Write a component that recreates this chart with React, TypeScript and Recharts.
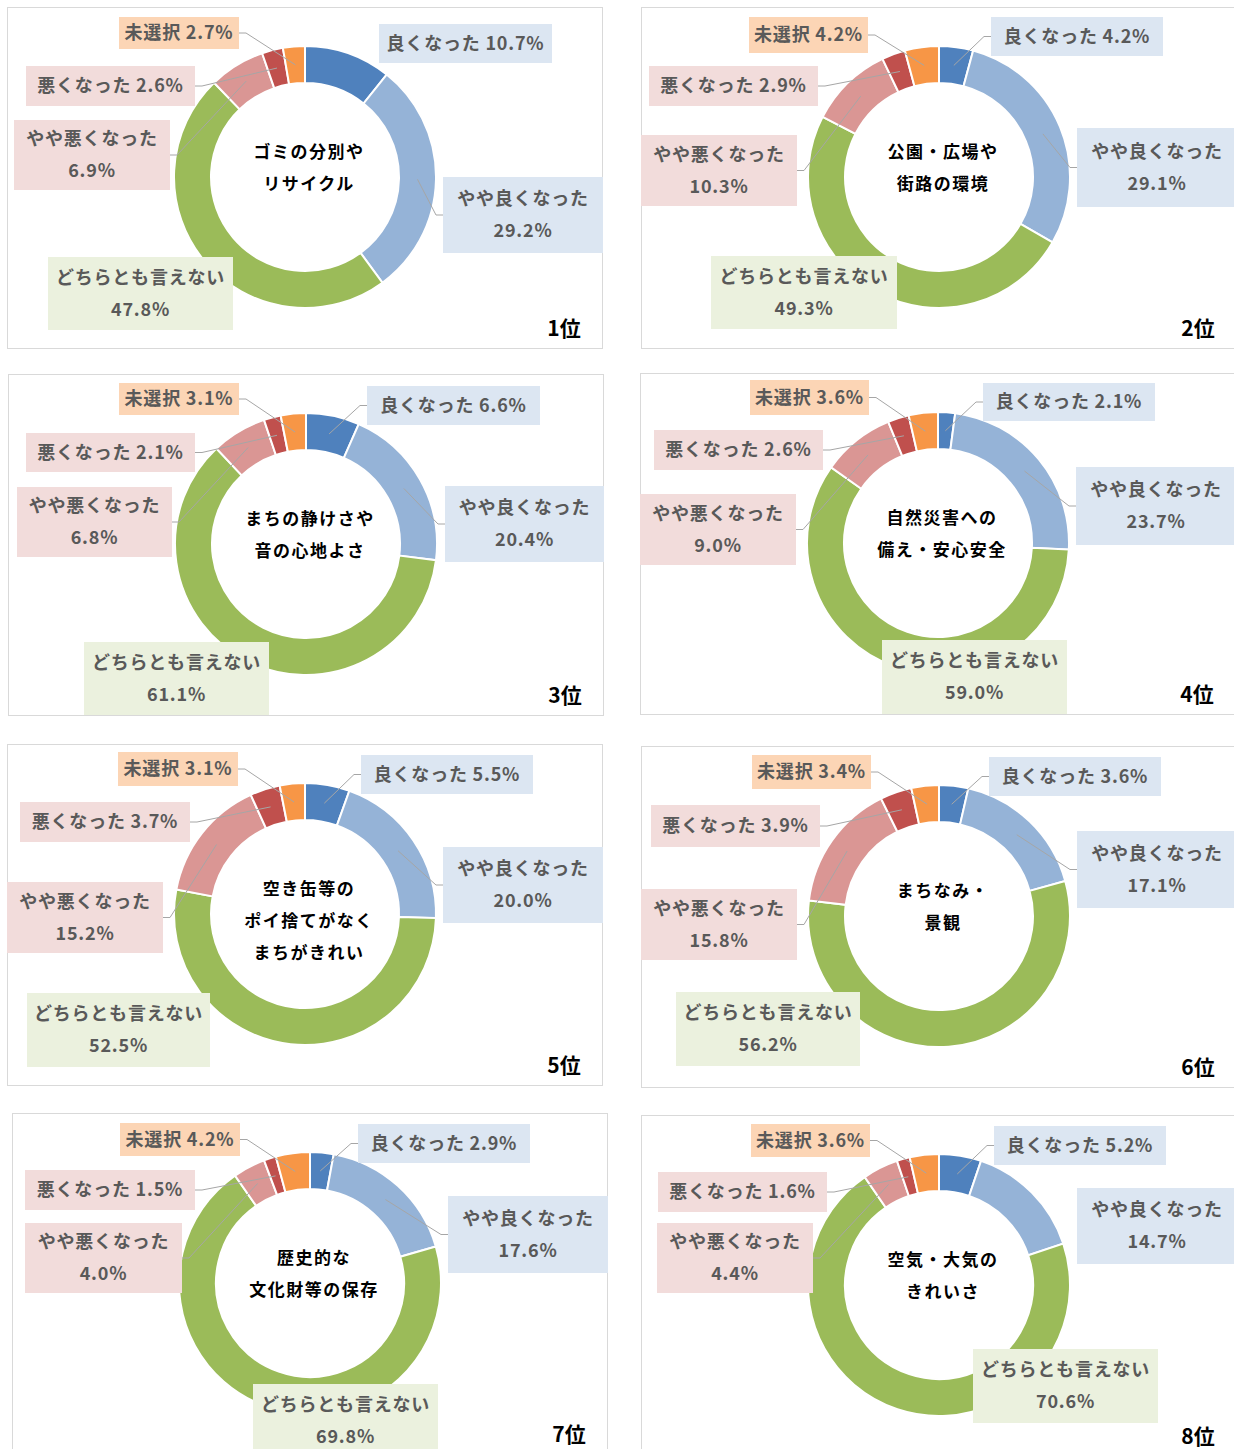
import { PieChart, Pie, Cell } from 'recharts';

// 回答区分（12時の位置から時計回り）
const categories = ['良くなった', 'やや良くなった', 'どちらとも言えない', 'やや悪くなった', '悪くなった', '未選択'];
const twoLine = [false, true, true, true, false, false];

const topics = [
  ['ゴミの分別や', 'リサイクル'],
  ['公園・広場や', '街路の環境'],
  ['まちの静けさや', '音の心地よさ'],
  ['自然災害への', '備え・安心安全'],
  ['空き缶等の', 'ポイ捨てがなく', 'まちがきれい'],
  ['まちなみ・', '景観'],
  ['歴史的な', '文化財等の保存'],
  ['空気・大気の', 'きれいさ'],
];
const ranks = ['1位', '2位', '3位', '4位', '5位', '6位', '7位', '8位'];

// 割合（%）
const gomi = [10.7, 29.2, 47.8, 6.9, 2.6, 2.7];
const koen = [4.2, 29.1, 49.3, 10.3, 2.9, 4.2];
const shizukesa = [6.6, 20.4, 61.1, 6.8, 2.1, 3.1];
const saigai = [2.1, 23.7, 59.0, 9.0, 2.6, 3.6];
const akikan = [5.5, 20.0, 52.5, 15.2, 3.7, 3.1];
const machinami = [3.6, 17.1, 56.2, 15.8, 3.9, 3.4];
const rekishi = [2.9, 17.6, 69.8, 4.0, 1.5, 4.2];
const kuki = [5.2, 14.7, 70.6, 4.4, 1.6, 3.6];

const series = [gomi, koen, shizukesa, saigai, akikan, machinami, rekishi, kuki];

const SLICE_COLORS = ['#4F81BD', '#95B3D7', '#9BBB59', '#DA9694', '#C0504D', '#F79646'];
const BOX_COLORS = ['#DCE6F2', '#DCE6F2', '#EBF1DE', '#F2DCDB', '#F2DCDB', '#FCD5B5'];

const W = 596;
const H = 342;
const CX = 298;
const CY = 170;

// パネル位置
const panels = [
  { left: 7, top: 7 }, { left: 641, top: 7 },
  { left: 8, top: 374 }, { left: 640, top: 373 },
  { left: 7, top: 744 }, { left: 641, top: 746 },
  { left: 12, top: 1113 }, { left: 641, top: 1115 },
];

// ラベル枠 [x, y, w, h]（パネル内座標）
const boxes = [
  [[372, 17, 173, 39], [436, 170, 160, 76], [41, 250, 185, 73], [7, 113, 156, 70], [19, 59, 169, 40], [112, 10, 120, 32]],
  [[350, 10, 172, 39], [436, 121, 160, 79], [70, 249, 186, 73], [0, 128, 156, 71], [8, 59, 169, 40], [108, 10, 119, 36]],
  [[359, 12, 173, 39], [437, 112, 159, 76], [76, 268, 185, 73], [9, 113, 155, 70], [18, 59, 169, 39], [111, 9, 120, 32]],
  [[343, 10, 172, 38], [436, 94, 160, 78], [242, 267, 185, 74], [0, 121, 156, 71], [14, 57, 169, 40], [110, 7, 119, 35]],
  [[354, 11, 172, 39], [436, 103, 160, 76], [20, 249, 183, 74], [0, 138, 156, 71], [13, 58, 170, 40], [111, 8, 120, 34]],
  [[348, 11, 172, 39], [436, 85, 160, 77], [35, 246, 184, 74], [0, 143, 156, 71], [10, 59, 169, 42], [111, 9, 119, 34]],
  [[346, 11, 172, 39], [436, 83, 160, 77], [241, 271, 185, 74], [13, 110, 157, 70], [13, 57, 170, 40], [108, 10, 120, 33]],
  [[353, 11, 172, 39], [436, 73, 160, 76], [332, 234, 185, 74], [16, 108, 156, 70], [17, 57, 169, 40], [110, 9, 119, 33]],
];

const noLine = (p: number, i: number) => i === 2 || (p === 0 && i === 0) || (p === 7 && i === 1);

const RADIAN = Math.PI / 180;
const FONT = '"Noto Sans CJK JP", "Noto Sans", sans-serif';

const makeLabel = (p: number) => (props: any) => {
  const { cx, cy, midAngle, innerRadius, outerRadius, index, value } = props;
  const [bx, by, bw, bh] = boxes[p][index];
  const r = (innerRadius + outerRadius) / 2;
  const px = cx + r * Math.cos(-midAngle * RADIAN);
  const py = cy + r * Math.sin(-midAngle * RADIAN);
  const right = bx + bw / 2 > cx;
  const ax = right ? bx : bx + bw;
  const ex = right ? ax - 7 : ax + 7;
  const ay = by + bh / 2;
  const tx = bx + bw / 2;
  const val = `${Number(value).toFixed(1)}%`;
  const textProps = {
    x: tx,
    textAnchor: 'middle' as const,
    dominantBaseline: 'central' as const,
    fill: '#595959',
    fontSize: 18,
    fontWeight: 700,
    letterSpacing: 0.8,
    fontFamily: FONT,
  };
  return (
    <g>
      {!noLine(p, index) && (
        <polyline points={`${ax},${ay} ${ex},${ay} ${px},${py}`} fill="none" stroke="#A6A6A6" strokeWidth={1} />
      )}
      <rect x={bx} y={by} width={bw} height={bh} fill={BOX_COLORS[index]} />
      {twoLine[index] ? (
        <>
          <text {...textProps} y={ay - 18}>{categories[index]}</text>
          <text {...textProps} y={ay + 14}>{val}</text>
        </>
      ) : (
        <text {...textProps} y={ay - 2}>{`${categories[index]} ${val}`}</text>
      )}
    </g>
  );
};

const Panel = ({ p }: { p: number }) => {
  const data = categories.map((name, i) => ({ name, value: series[p][i] }));
  return (
    <div
      style={{
        position: 'absolute',
        left: panels[p].left,
        top: panels[p].top,
        width: W,
        height: H,
        border: '1px solid #D9D9D9',
        boxSizing: 'border-box',
        background: '#fff',
      }}
    >
      <div style={{ position: 'absolute', left: -1, top: -1 }}>
        <PieChart width={W} height={H} margin={{ top: 0, right: 0, bottom: 0, left: 0 }}>
          <Pie
            data={data}
            dataKey="value"
            nameKey="name"
            cx={CX}
            cy={CY}
            innerRadius={94}
            outerRadius={131}
            startAngle={90}
            endAngle={-270}
            stroke="#FFFFFF"
            strokeWidth={2}
            label={makeLabel(p)}
            labelLine={false}
            isAnimationActive={false}
          >
            {data.map((_, i) => (
              <Cell key={i} fill={SLICE_COLORS[i]} />
            ))}
          </Pie>
        </PieChart>
        {topics[p].map((line, k) => (
          <div
            key={k}
            style={{
              position: 'absolute',
              left: CX - 100,
              width: 200,
              top: CY - 26 + k * 32 - 13,
              height: 26,
              lineHeight: '26px',
              textAlign: 'center',
              fontFamily: FONT,
              fontSize: 17,
              fontWeight: 700,
              letterSpacing: 1.5,
              color: '#000',
              paddingLeft: 4,
            }}
          >
            {line}
          </div>
        ))}
        <div
          style={{
            position: 'absolute',
            left: 517,
            width: 80,
            top: 306,
            height: 28,
            lineHeight: '28px',
            textAlign: 'center',
            fontFamily: FONT,
            fontSize: 21,
            fontWeight: 700,
            color: '#000',
          }}
        >
          {ranks[p]}
        </div>
      </div>
    </div>
  );
};

export default function App() {
  return (
    <div style={{ position: 'absolute', left: 0, top: 0, width: 1234, height: 1449, overflow: 'hidden', background: '#fff' }}>
      {panels.map((_, p) => (
        <Panel key={p} p={p} />
      ))}
    </div>
  );
}
